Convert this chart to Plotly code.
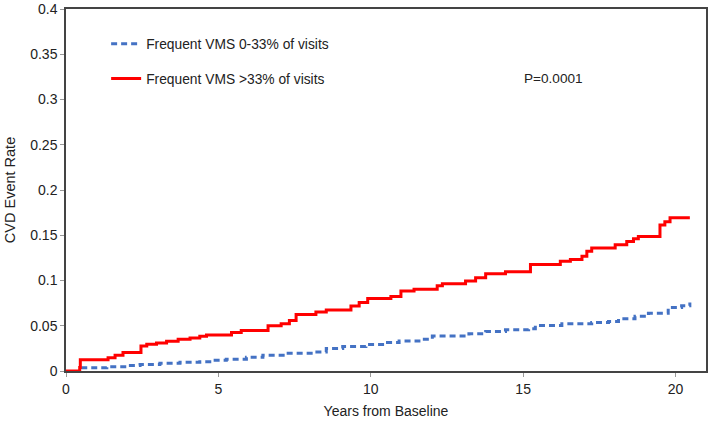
import plotly.graph_objects as go

# Frequent VMS >33% of visits (red, step curve)
red_t = [0, 0.45, 0.47, 1.38, 1.61, 1.87, 2.46, 2.65, 2.97, 3.3, 3.68, 4.07, 4.39, 4.61,
         5.43, 5.75, 6.63, 7.06, 7.33, 7.55, 8.2, 8.54, 9.35, 9.62, 9.9, 10.66, 10.99,
         11.42, 12.18, 12.35, 13.11, 13.44, 13.77, 14.42, 15.24, 16.22, 16.55, 16.93,
         17.09, 17.25, 18.02, 18.4, 18.62, 18.78, 19.49, 19.65, 19.82, 20.47]
red_v = [0, 0.004, 0.0124, 0.0146, 0.0175, 0.0204, 0.0277, 0.0295, 0.031, 0.0328, 0.035,
         0.0364, 0.0383, 0.0397, 0.0426, 0.0448, 0.0499, 0.0521, 0.0557, 0.0623, 0.0652,
         0.0674, 0.0718, 0.0757, 0.0801, 0.0823, 0.0885, 0.0904, 0.0943, 0.0965, 0.0995,
         0.103, 0.1074, 0.1096, 0.1177, 0.1213, 0.1232, 0.1268, 0.1322, 0.1358, 0.1396,
         0.1432, 0.1461, 0.1486, 0.1614, 0.165, 0.1694, 0.1694]

# Frequent VMS 0-33% of visits (blue dashed)
blue_t = [0.5, 1.34, 2.0, 2.43, 3.08, 3.74, 4.39, 4.77, 5.26, 5.92, 6.46, 7.23, 8.1, 8.54,
          9.08, 9.84, 10.55, 10.93, 11.58, 12.02, 13.22, 13.77, 14.42, 15.18, 15.4, 16.27,
          17.25, 17.8, 18.13, 18.67, 19.11, 19.54, 19.76, 20.2, 20.47]
blue_v = [0.0036, 0.0047, 0.0062, 0.0073, 0.0087, 0.0098, 0.0102, 0.012, 0.0131, 0.0153,
          0.0175, 0.0197, 0.0211, 0.0248, 0.027, 0.0292, 0.0314, 0.0331, 0.035, 0.0386,
          0.0412, 0.0437, 0.0456, 0.0467, 0.0503, 0.0521, 0.0536, 0.0546, 0.0576, 0.0604,
          0.0637, 0.0637, 0.0703, 0.0721, 0.0757]

x_ticks = [0, 5, 10, 15, 20]
y_ticks = [0, 0.05, 0.1, 0.15, 0.2, 0.25, 0.3, 0.35, 0.4]

FONT = "Liberation Sans, Arial, sans-serif"

fig = go.Figure()
fig.add_trace(go.Scatter(
    x=blue_t, y=blue_v, mode="lines", line_shape="hv",
    line=dict(color="#4472C4", width=3, dash="6px,4px"),
    name="Frequent VMS 0-33% of visits", legendgroup="a"))
fig.add_trace(go.Scatter(
    x=red_t, y=red_v, mode="lines", line_shape="hv",
    line=dict(color="#FF0000", width=3),
    name="Frequent VMS >33% of visits", legendgroup="b"))

fig.add_annotation(x=14.95, y=0.3235, xref="x", yref="y", text="P=0.0001",
                   showarrow=False, xanchor="left", yanchor="middle",
                   font=dict(family=FONT, size=13.6, color="#222"))

fig.update_layout(
    width=709, height=424,
    margin=dict(l=66, r=1, t=5, b=53),
    paper_bgcolor="white", plot_bgcolor="white",
    font=dict(family=FONT, size=13, color="#222"),
    showlegend=True,
    legend=dict(x=0.0627, y=0.947, xanchor="left", yanchor="top",
                bgcolor="rgba(0,0,0,0)", tracegroupgap=14,
                font=dict(family=FONT, size=13.8, color="#222")),
    xaxis=dict(range=[0, 21], tickvals=x_ticks, showgrid=False, zeroline=False,
               showline=True, linecolor="#444", linewidth=1.5, mirror=True,
               ticks="outside", ticklen=4, tickcolor="#999",
               tickfont=dict(size=14, color="#222"), ticklabeloverflow="allow",
               title=dict(text="Years from Baseline", font=dict(size=14, color="#222"), standoff=11)),
    yaxis=dict(range=[0, 0.4], tickvals=y_ticks, showgrid=False, zeroline=False,
               showline=True, linecolor="#444", linewidth=1.5, mirror=True,
               ticks="outside", ticklen=4, tickcolor="#999",
               tickfont=dict(size=14, color="#222"), ticklabeloverflow="allow",
               title=dict(text="CVD Event Rate", font=dict(size=14.5, color="#222"), standoff=11)),
)

fig.write_html("out.html", config={"displayModeBar": False},
               post_script="document.body.style.margin='0';")
